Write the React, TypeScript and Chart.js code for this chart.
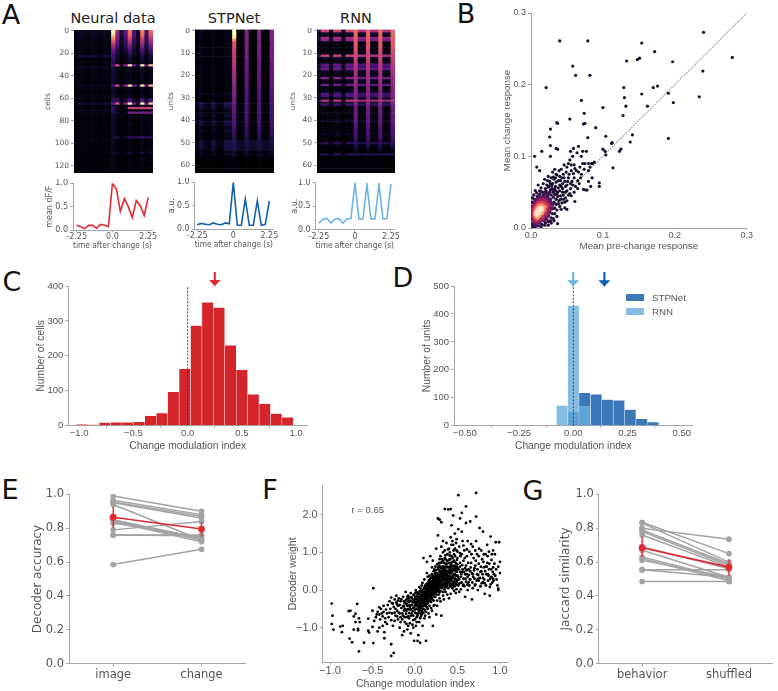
import React, { useEffect, useRef } from "react";
import { Chart, registerables } from "chart.js";
Chart.register(...registerables);

const GREY = "#555";
const SPINE = "#a6a6a6";
const DJ = "'DejaVu Sans'";
const LB = "'Liberation Sans'";

/* ---------- panel A data ---------- */
const timeBins = [-2.25,-2,-1.75,-1.5,-1.25,-1,-0.75,-0.5,-0.25,0,0.25,0.5,0.75,1,1.25,1.5,1.75,2,2.25];
const neuralTrace = [0.1,0.07,0.03,0.1,0.1,0.04,0.12,0.1,0.07,1.0,0.87,0.4,0.67,0.5,0.27,0.63,0.52,0.31,0.7];
const stpTrace = [0.09,0.12,0.1,0.09,0.13,0.1,0.09,0.13,0.11,1.0,0.08,0.08,0.64,0.08,0.08,0.6,0.08,0.1,0.6];
const rnnTrace = [0.14,0.22,0.24,0.14,0.23,0.24,0.14,0.23,0.24,1.0,0.23,0.23,0.96,0.23,0.23,0.96,0.23,0.24,0.97];

const neuralPre = [.07,.06,.05,.05,.04,.04,.04,.04,.03,.03,.04,.13,.03,.03,.03,.04,.08,.03,.04,.03,.05,.03,.02,.03,.06,.02,.02,.02,.03,.03,.04,.02,.1,.03,.02,.07,.04,.02,.02,.02,.02,.02,.02,.02,.02,.02,.01,.02,.03,.02,.01,.02,.01,.01,.02,.01,.01,.01,.01,.01,.01,.01,.01,.01];
const neuralOnset = [1,.95,.86,.76,.66,.56,.48,.42,.34,.28,.24,.2,.18,.15,.13,.25,.12,.11,.1,.09,.1,.08,.08,.08,.25,.08,.07,.07,.07,.07,.14,.14,.3,.08,.16,.18,.14,.07,.07,.07,.07,.06,.06,.06,.06,.06,.06,.09,.06,.05,.05,.05,.05,.05,.07,.04,.04,.04,.04,.04,.04,.04,.03,.03];
const neuralFlash = [.72,.7,.64,.58,.52,.46,.4,.33,.27,.21,.16,.12,.1,.08,.06,.95,.08,.06,.05,.05,.05,.05,.04,.04,.95,.06,.04,.04,.04,.04,.22,.26,1,.08,.1,.03,.12,.04,.04,.04,.04,.04,.03,.03,.03,.03,.03,.2,.03,.03,.03,.03,.03,.03,.1,.02,.02,.02,.02,.02,.02,.02,.01,.01];
const neuralTail = [0,0,0,0,0,0,0,0,0,0,0,0,0,0,0,.1,0,0,0,0,0,0,0,0,.12,0,0,0,0,0,.03,.05,.12,0,.55,.02,.34,0,0,0,0,0,0,0,0,0,0,.15,0,0,0,0,0,0,.04,0,0,0,0,0,0,0,0,0];
const neuralPreCols = [.5,1,.8,.5,1,.8,.5,1,.7];
const neuralFlashCols = [.6,.12,.4,1,.35,.1,1,.3,.9];

const stpOnset = [1,1,.97,.92,.76,.6,.59,.58,.56,.55,.54,.53,.52,.51,.5,.49,.48,.47,.46,.45,.44,.43,.42,.41,.4,.39,.38,.37,.36,.35,.34,.33,.32,.31,.3,.29,.28,.27,.27,.26,.25,.24,.23,.22,.21,.2,.18,.16,.14,.15,.15,.13,.13,.11,.07,.1,.04,.02,.01,.01,.01,.01,.01,.01];
const stpFlash = [.37,.37,.36,.36,.35,.35,.35,.34,.34,.34,.33,.33,.33,.32,.32,.31,.31,.31,.3,.3,.3,.29,.29,.29,.28,.28,.27,.27,.26,.26,.25,.25,.24,.24,.24,.23,.23,.23,.22,.22,.21,.21,.2,.2,.19,.18,.17,.15,.14,.14,.13,.12,.11,.09,.05,.08,.03,.01,.01,.01,.01,.01,.01,.01];
const stpPre = [.03,.03,.03,.04,.03,.03,.04,.03,.03,.05,.04,.03,.04,.03,.03,.03,.02,.03,.02,.02,.03,.02,.02,.03,.02,.02,.02,.03,.08,.02,.02,.02,.13,.13,.12,.07,.02,.08,.09,.02,.1,.11,.1,.03,.07,.07,.02,.05,.02,.11,.12,.12,.11,.09,.02,.07,.01,.01,.01,.01,.01,.01,.01,.01];
const stpBase = [0,0,0,0,0,0,0,0,0,0,0,0,0,0,0,0,0,0,0,0,0,0,0,0,0,0,0,0,.01,0,0,0,.02,.02,.02,.01,0,.02,.02,0,.02,.02,.02,0,.02,.02,0,.01,0,.07,.08,.08,.07,.06,0,.04,0,0,0,0,0,0,0,0];
const stpPreCols = [.3,1,.4,.2,1,.3,.2,1,1];

const rnnBand = [.56,.1,.06,.44,.4,.04,.04,.03,.03,.04,.06,.56,.1,.04,.04,.3,.26,.33,.08,.04,.05,.38,.06,.04,.33,.04,.03,.06,.26,.24,.04,.5,.1,.2,.03,.02,.02,.05,.02,.02,.08,.02,.02,.02,.02,.02,.06,.02,.02,.02,.16,.02,.01,.01,.01,.16,.01,.01,.01,.01,.01,.01,.01,.01];
const rnnFlash = [.66,.66,.65,.64,.63,.62,.61,.6,.59,.58,.57,.56,.55,.53,.52,.51,.5,.49,.47,.46,.45,.44,.43,.42,.41,.4,.39,.38,.38,.37,.36,.35,.35,.34,.33,.32,.32,.31,.3,.3,.29,.28,.27,.26,.25,.24,.23,.22,.2,.18,.17,.14,.1,.06,.03,.06,.01,.01,.01,.01,.01,.01,.01,.01];
const rnnBandCols = [.3,1,1,.15,1,1,.15,1,1,1,.85,.85,1,.85,.85,1,.85,.85,1];

/* ---------- panel B data ---------- */
const bSparse = [[.04,.261],[.079,.261],[.154,.258],[.24,.273],[.172,.246],[.28,.238],[.197,.232],[.133,.233],[.148,.235],[.151,.237],[.058,.226],[.062,.213],[.082,.213],[.239,.219],[.021,.196],[.129,.196],[.17,.196],[.176,.198],[.154,.187],[.191,.188],[.13,.182],[.234,.183],[.198,.175],[.07,.178],[.132,.17],[.162,.17],[.1,.168],[.074,.16],[.128,.157],[.054,.152],[.036,.147],[.037,.146],[.073,.145],[.075,.146],[.09,.14],[.027,.138],[.026,.127],[.079,.126],[.104,.128],[.141,.13],[.191,.125],[.138,.12],[.112,.118],[.113,.119],[.027,.115],[.035,.111],[.037,.11],[.059,.111],[.066,.114],[.055,.107],[.072,.107],[.077,.107],[.1,.11],[.103,.107],[.104,.102],[.123,.107],[.125,.11],[.005,.1],[.015,.107],[.027,.1],[.008,.085],[.012,.08],[.114,.084],[.095,.063],[.095,.058],[.061,.037],[.047,.028],[.05,.026],[.037,.006],[.01,.06],[.012,.052],[.016,.05],[.018,.046],[.02,.055],[.022,.06],[.019,.068],[.024,.047],[.026,.065],[.028,.07],[.03,.062],[.032,.068],[.034,.058],[.036,.074],[.038,.066],[.04,.06],[.042,.082],[.043,.07],[.044,.055],[.045,.075],[.046,.088],[.047,.065],[.048,.05],[.05,.085],[.05,.06],[.052,.07],[.052,.09],[.054,.095],[.055,.055],[.056,.08],[.057,.065],[.058,.1],[.06,.07],[.06,.088],[.062,.058],[.063,.08],[.064,.105],[.065,.066],[.067,.062],[.068,.085],[.07,.1],[.07,.075],[.072,.09],[.073,.054],[.075,.09],[.076,.053],[.078,.053],[.08,.09],[.08,.08],[.082,.085],[.083,.058],[.084,.09],[.086,.09],[.088,.092],[.08,.065],[.085,.07],[.035,.075],[.03,.053],[.033,.082],[.04,.072],[.044,.05],[.048,.042],[.052,.046],[.037,.05],[.041,.045],[.045,.04],[.043,.035],[.039,.038],[.054,.048],[.058,.06],[.066,.078],[.074,.082]];
const bCloud = [[.014,.056],[.017,.062],[.021,.051],[.023,.066],[.025,.058],[.027,.053],[.029,.059],[.031,.05],[.031,.071],[.033,.055],[.035,.064],[.036,.047],[.038,.056],[.039,.08],[.04,.052],[.041,.066],[.042,.058],[.044,.062],[.045,.046],[.046,.07],[.048,.058],[.049,.078],[.05,.052],[.051,.065],[.053,.075],[.055,.062],[.056,.088],[.059,.076],[.061,.083],[.024,.072],[.027,.062],[.03,.078],[.034,.07],[.041,.04],[.047,.036],[.05,.038],[.056,.045],[.06,.05],[.065,.055],[.069,.07]];
const blobDark = [[.001,.002],[.003,.001],[.006,.002],[.01,.003],[.014,.002],[.019,.004],[.024,.004],[.028,.007],[.001,.006],[.001,.012],[.001,.018],[.001,.024],[.001,.03],[.001,.036],[.002,.042],[.004,.046],[.008,.049],[.012,.047],[.015,.043],[.019,.05],[.023,.044],[.026,.05],[.028,.046],[.031,.043],[.033,.047],[.035,.04],[.037,.044],[.032,.036],[.035,.033],[.038,.034],[.033,.028],[.036,.025],[.03,.02],[.033,.02],[.028,.014],[.031,.013],[.024,.009],[.027,.01],[.02,.007],[.015,.005],[.034,.052],[.029,.055],[.024,.057],[.014,.051],[.006,.052],[.04,.03],[.042,.026],[.032,.01],[.036,.016],[.03,.027],[.027,.04],[.022,.048],[.017,.046],[.009,.044],[.005,.04],[.003,.035],[.03,.032],[.005,.005],[.012,.007],[.018,.01],[.022,.012]];
const blobPurple = [[.004,.008],[.007,.006],[.012,.009],[.016,.011],[.02,.014],[.024,.017],[.026,.022],[.028,.027],[.029,.033],[.027,.037],[.024,.041],[.02,.044],[.016,.042],[.012,.043],[.008,.04],[.005,.036],[.003,.03],[.003,.023],[.002,.016],[.003,.012],[.025,.03],[.024,.036],[.022,.04]];
const blobMagenta = [[.005,.011],[.008,.009],[.012,.012],[.016,.014],[.019,.018],[.022,.021],[.024,.026],[.024,.032],[.021,.037],[.017,.039],[.013,.039],[.009,.036],[.006,.032],[.004,.027],[.004,.02],[.004,.015],[.02,.032]];
const blobRed = [[.006,.014],[.009,.012],[.012,.015],[.015,.017],[.018,.021],[.02,.025],[.021,.03],[.018,.034],[.014,.035],[.01,.033],[.007,.029],[.005,.024],[.005,.018]];
const blobOrange = [[.007,.017],[.009,.015],[.012,.018],[.015,.021],[.017,.025],[.018,.029],[.015,.031],[.012,.031],[.009,.028],[.007,.024],[.006,.02]];
const blobCream = [[.008,.018],[.009,.021],[.011,.021],[.012,.024],[.014,.025],[.015,.027],[.012,.028],[.01,.025],[.008,.022]];

/* ---------- panels C, D data ---------- */
const cCenters = [-0.974,-0.868,-0.763,-0.658,-0.553,-0.447,-0.342,-0.237,-0.132,-0.026,0.079,0.184,0.289,0.395,0.5,0.605,0.711,0.816,0.921];
const cCounts = [4,3,9,10,10,11,28,36,97,163,287,353,338,230,160,90,63,35,24];
const dRnnCenters = [-0.052,0,0.052];
const dRnnCounts = [72,430,70];
const dStpCenters = [0,0.052,0.105,0.157,0.21,0.262,0.315,0.367];
const dStpCounts = [50,118,112,94,91,58,25,13];
const cArrowAt = 0.25;
const dStpArrowAt = 0.143;
const dRnnArrowAt = -0.001;

/* ---------- panel E, G data ---------- */
const eLabels = ["image","change"];
const eImage = [.99,.965,.955,.95,.94,.85,.845,.84,.83,.79,.76,.76,.585];
const eChange = [.9,.88,.87,.86,.73,.74,.73,.72,.745,.84,.76,.755,.675];
const eMean = [.865,.795];
const eErrLow = [.8,.75];
const eErrHigh = [.927,.833];
const gLabels = ["behavior","shuffled"];
const gBehavior = [.835,.83,.8,.79,.78,.76,.69,.67,.63,.62,.61,.555,.555,.485];
const gShuffled = [.65,.6,.735,.59,.58,.57,.56,.51,.5,.49,.51,.555,.51,.485];
const gMean = [.685,.57];
const gErrLow = [.63,.52];
const gErrHigh = [.75,.615];

/* ---------- panel F data ---------- */
const fPoints = [[-.98,-.36],[-.97,-.68],[-.98,-.9],[-.96,-1.05],[-.88,-.97],[-.85,-.95],[-.86,-1.12],[-.78,-.56],[-.76,-.55],[-.77,-1.29],[-.74,-1.39],[-.72,-.7],[-.7,-.63],[-.68,-.37],[-.72,-1.05],[-.7,-.85],[-.67,-1.07],[-.66,-.75],[-.65,-.85],[-.66,-1.63],[-.67,-1.03],[-.6,-1.4],[-.55,-.76],[-.55,-1.08],[-.54,-1.13],[-.5,-.98],[-.49,.05],[-.49,-1.41],[-.5,-.55],[-.46,-.72],[-.45,-.65],[-.44,-1.1],[-.42,-1.0],[-.42,-.46],[-.4,-.5],[-.38,-.95],[-.36,-1.12],[-.36,-1.28],[-.38,-.7],[-.35,-.75],[-.34,-.52],[-.33,-.9],[-.3,-.6],[-.3,-.3],[-.28,-.2],[-.28,-.8],[-.28,-1.44],[-.28,-1.75],[-.25,-1.67],[-.26,-.95],[-.25,-.45],[-.24,-.25],[-.23,-.68],[-.22,-.33],[-.21,-.55],[-.2,-.78],[-.2,-.42],[-.19,-.22],[-.18,-1.0],[-.18,-.62],[-.17,-.3],[-.16,-.48],[-.15,-.78],[-.15,-1.2],[-.14,-.18],[-.13,-.55],[-.13,-1.1],[-.12,-.35],[-.12,-.72],[-.11,-.05],[-.1,-.9],[-.1,-.25],[-.1,-.55],[-.09,-1.05],[-.09,-.42],[-.08,-.15],[-.08,-.7],[-.07,-.32],[-.06,-.88],[-.06,-.52],[-.05,-.08],[-.05,-1.15],[-.04,-.4],[-.04,-.62],[-.03,-.24],[-.02,-.8],[-.02,-.48],[-.01,-1.35],[-.01,-.12],[0,-.6],[0,-.35],[.01,.0],[.01,-.95],[.01,-.22],[.02,-.5],[.02,-.72],[.03,-.3],[.03,-.1],[.03,-1.35],[.04,-.42],[.04,-.62],[.05,-.18],[.05,.08],[.05,-.85],[.06,-.35],[.06,-.52],[.06,-1.4],[.07,-.05],[.07,-.25],[.07,-.7],[.08,.12],[.08,-.42],[.08,-.15],[.09,-.6],[.09,-.3],[.09,-.95],[.1,.02],[.1,-.22],[.1,-.5],[.1,.85],[.11,-.1],[.11,-.35],[.11,-.75],[.11,.28],[.12,.05],[.12,-.42],[.12,-.18],[.13,-.28],[.13,.15],[.13,-.58],[.13,-1.35],[.14,-.02],[.14,-.2],[.14,.75],[.15,.1],[.15,-.35],[.15,-.08],[.15,-.5],[.15,.35],[.16,-.15],[.16,.22],[.16,-.28],[.16,.02],[.17,-.42],[.17,.08],[.17,-.08],[.17,-.72],[.18,.3],[.18,-.22],[.18,.0],[.18,.9],[.19,.15],[.19,-.32],[.19,-.12],[.2,.42],[.2,.05],[.2,-.55],[.2,-.2],[.2,.22],[.21,-.05],[.21,.3],[.21,.78],[.21,-.95],[.22,.12],[.22,-.28],[.22,.5],[.22,-.12],[.23,.02],[.23,.35],[.23,.2],[.23,-.4],[.24,.08],[.24,.62],[.24,-.18],[.24,.45],[.25,.27],[.25,-.05],[.25,1.1],[.25,-.65],[.26,.15],[.26,.38],[.26,-.28],[.27,.55],[.27,.02],[.27,1.45],[.27,1.9],[.27,.22],[.28,-.12],[.28,.72],[.28,.32],[.29,.1],[.29,.48],[.29,-.22],[.29,1.87],[.3,.9],[.3,.25],[.3,-.02],[.3,.6],[.31,.38],[.31,.15],[.31,1.15],[.31,1.8],[.31,-.68],[.32,.5],[.32,.05],[.32,.75],[.33,.3],[.33,1.0],[.33,-.15],[.33,1.3],[.34,.18],[.34,.62],[.34,.42],[.35,.85],[.35,.08],[.35,2.15],[.35,1.05],[.36,.3],[.36,.52],[.36,-.05],[.37,.7],[.37,.22],[.37,1.25],[.38,.4],[.38,.95],[.38,.12],[.39,.6],[.39,2.14],[.4,.3],[.4,.8],[.4,1.1],[.4,-.22],[.41,.48],[.41,.15],[.42,.68],[.42,1.4],[.42,2.15],[.42,.25],[.43,.35],[.43,.9],[.43,1.72],[.44,.55],[.44,.05],[.44,.75],[.45,.2],[.45,1.2],[.45,1.98],[.46,.42],[.46,.62],[.46,.95],[.47,.1],[.47,.3],[.47,1.5],[.48,.5],[.48,.72],[.48,-.08],[.49,1.05],[.49,.2],[.49,1.35],[.5,.38],[.5,.6],[.5,.85],[.51,.12],[.51,2.52],[.51,1.62],[.52,.28],[.52,1.15],[.53,.48],[.53,.72],[.53,1.9],[.54,.02],[.54,.35],[.55,.95],[.55,.2],[.55,1.55],[.55,2.05],[.56,.55],[.56,1.3],[.57,.3],[.57,.78],[.58,.1],[.58,1.05],[.59,.42],[.59,-.18],[.6,.65],[.6,.22],[.6,1.78],[.6,2.22],[.61,.9],[.62,.35],[.62,.0],[.62,1.3],[.63,.55],[.64,.12],[.64,1.02],[.65,1.82],[.65,.28],[.66,.72],[.67,-.25],[.67,.45],[.68,.05],[.68,1.15],[.69,.85],[.7,.3],[.7,.58],[.71,.15],[.72,2.58],[.72,1.95],[.72,1.3],[.73,.42],[.73,.95],[.74,.0],[.75,.7],[.75,.25],[.76,1.65],[.77,.1],[.78,.5],[.78,1.05],[.79,.82],[.8,.32],[.8,1.55],[.81,.6],[.82,-.1],[.82,.18],[.83,.95],[.84,.42],[.85,.72],[.85,1.2],[.86,.25],[.87,.55],[.88,-.15],[.88,.08],[.89,1.42],[.9,.35],[.9,.8],[.91,.2],[.92,1.05],[.92,.6],[.93,.42],[.94,.95],[.95,1.27],[.96,.28],[.97,.12],[.98,.04],[.98,.62],[.98,.0],[.99,1.27],[1,.75],[1,.45]];
const fCore = [[-.13,-.44],[-.115,-.29],[-.105,-.63],[-.095,-.36],[-.085,-.51],[-.075,-.23],[-.07,-.61],[-.065,-.41],[-.055,-.29],[-.048,-.51],[-.042,-.19],[-.033,-.39],[-.028,-.56],[-.022,-.31],[-.018,-.13],[-.012,-.46],[-.006,-.26],[.002,-.52],[.004,-.19],[.006,-.07],[.012,-.39],[.015,-.31],[.017,-.62],[.022,-.16],[.025,-.41],[.027,-.06],[.032,-.49],[.035,-.23],[.042,-.31],[.044,-.09],[.046,-.56],[.052,-.43],[.054,-.26],[.056,-.03],[.062,-.19],[.064,-.46],[.066,.04],[.072,-.31],[.074,-.13],[.076,-.51],[.082,-.23],[.084,-.36],[.086,-.03],[.088,.19],[.092,-.16],[.094,-.43],[.096,-.07],[.102,-.29],[.104,-.12],[.106,.06],[.108,-.39],[.112,-.22],[.114,-.04],[.116,-.53],[.118,.11],[.122,-.33],[.124,-.09],[.126,.02],[.128,-.2],[.132,-.14],[.134,.08],[.136,-.38],[.138,-.03],[.142,.17],[.144,-.25],[.146,-.12],[.148,.04],[.152,-.19],[.154,-.03],[.156,.14],[.158,-.32],[.162,.07],[.164,-.11],[.166,.26],[.168,-.02],[.172,-.2],[.174,.17],[.176,.04],[.178,-.28],[.182,.11],[.184,-.07],[.186,.22],[.188,.02],[.192,.33],[.194,-.16],[.196,.08],[.198,-.04],[.202,.18],[.204,-.25],[.206,.01],[.208,.37],[.212,.13],[.214,-.1],[.216,.26],[.218,.06],[.222,-.02],[.224,.31],[.226,.17],[.228,-.18],[.232,.09],[.234,.42],[.236,-.07],[.238,.24],[.242,.14],[.244,.36],[.246,.01],[.248,.52],[.252,.2],[.254,-.12],[.256,.3],[.258,.08],[.262,.44],[.264,.18],[.266,-.03],[.268,.33],[.272,.11],[.274,.6],[.276,.25],[.278,.02],[.282,.4],[.284,.16],[.286,.65],[.288,-.06],[.292,.3],[.294,.52],[.296,.19],[.298,.07],[.302,.37],[.304,.72],[.306,.45],[.308,.22],[.312,.08],[.314,.58],[.316,.32],[.318,.82],[.322,.15],[.324,.42],[.326,.63],[.328,-.05],[.332,.25],[.334,.52],[.336,.35],[.338,.12],[.342,.72],[.344,.28],[.346,.48],[.348,.02],[.352,.38],[.354,.6],[.356,.16],[.358,.92],[.362,.44],[.364,.25],[.366,.68],[.368,.08],[.372,.5],[.374,.33],[.376,.78],[.378,.18],[.382,.62],[.384,.28],[.386,.45],[.388,1.08],[.392,.05],[.394,.36],[.396,.72],[.398,.52],[.402,.2],[.404,.6],[.406,.38],[.408,.92],[.412,.28],[.414,.82],[.416,.1],[.418,.55],[.422,.44],[.424,.72],[.426,.16],[.428,1.2],[.432,.62],[.434,.3],[.436,.48],[.438,.06],[.442,.85],[.444,.38],[.446,.22],[.448,.65],[.452,.52],[.454,1.05],[.456,.12],[.458,.32],[.462,.75],[.464,.22],[.466,.55],[.468,.42],[.472,.9],[.474,.65],[.476,.16],[.478,.28],[.482,.38],[.484,1.25],[.486,.6],[.488,.02],[.492,.48],[.494,.8],[.496,.26],[.498,.68],[.505,.35],[.515,.55],[.525,.18],[.535,.9],[.545,.42],[.555,.66],[.565,.12],[.575,.48],[.585,.85],[.595,.3],[.605,.52],[.615,.14],[.625,.72],[.635,.4],[.645,.28],[.655,.6],[.665,.95],[.675,.2],[.685,.35],[.695,.52],[.705,.12],[.715,.78],[.725,.25],[.735,.55],[.745,.4],[.755,1.1],[.765,.32],[.775,.62],[.785,.18],[.795,.42],[.805,.75],[.815,.28],[.825,.5],[.835,.12],[.845,.62],[.855,.9],[.865,.38],[.875,.7],[.885,.3],[.895,.55],[.905,.95],[.915,.48],[.925,.25],[.935,.7],[.945,.38],[.955,.55],[-.48,-.82],[-.44,-.58],[-.41,-.78],[-.39,-.62],[-.37,-.42],[-.35,-.85],[-.32,-.4],[-.31,-.72],[-.29,-.5],[-.27,-.62],[-.26,-.36],[-.24,-.82],[-.23,-.5],[-.22,-.15],[-.21,-.7],[-.2,-.28],[-.19,-.6],[-.18,-.4],[-.17,-.85],[-.16,-.25],[-.15,-.62],[-.14,-.42],[-.13,-.3],[-.12,-.85],[-.11,-.52],[-.1,-.38],[-.09,-.18],[-.08,-.95],[-.07,-.75],[-.06,-.2],[-.05,-.68],[-.03,-.92],[-.02,-1.0],[0,-.78],[.02,-.85],[.04,-1.2],[.06,-.75],[.08,-.65],[.12,-.68],[.16,-.62],[.19,-.48],[.22,-.42],[.26,-.42],[.3,-.3],[.34,-.25],[.38,-.12],[.42,-.1],[.46,-.02],[.52,-.05]];
const fDense = [[.105,-.17],[.118,-.26],[.127,-.06],[.135,-.17],[.143,-.07],[.15,-.26],[.157,-.1],[.165,.02],[.173,-.15],[.18,.06],[.187,-.02],[.195,.12],[.2,-.1],[.21,.19],[.217,-.02],[.225,.08],[.233,.27],[.24,.03],[.247,.16],[.255,.24],[.26,.05],[.268,.13],[.275,.38],[.28,.09],[.287,.24],[.293,.41],[.3,.17],[.31,.32],[.315,.46],[.32,.1],[.328,.24],[.335,.36],[.34,.55],[.345,.13],[.353,.26],[.36,.42],[.368,.6],[.375,.15],[.383,.35],[.39,.5],[.395,.22],[.405,.45],[.413,.62],[.42,.33],[.43,.52],[.44,.12],[.45,.38],[.46,.78],[.47,.58],[.485,.15],[.495,.55],[.515,.3],[.53,.62],[.55,.48],[.57,.14],[.59,.58],[.61,.42],[.63,.2],[.65,.5],[.68,.42],[.71,.65],[.74,.3],[.77,.48],[.8,.2],[.83,.62],[.86,.42],[.89,.15],[.92,.3],[-.01,-.32],[.005,-.42],[.015,-.24],[.028,-.36],[.038,-.52],[.048,-.11],[.058,-.37],[.068,-.2],[.078,-.56],[.085,-.1],[.095,-.25],[-.08,-.3],[-.06,-.45],[-.04,-.3],[-.02,-.68],[.0,-.42],[.03,-.68],[.07,-.62],[.1,-.6],[.14,-.46],[-.27,-.35],[-.24,-.6],[-.21,-.38],[-.17,-.72],[-.14,-.68],[-.12,-.5],[-.1,-.72],[-.33,-.62],[-.37,-.58],[-.42,-.65],[.14,.45],[.17,.38],[.2,.6],[.23,.55],[.26,.68],[.29,.82],[.33,.78],[.36,.82],[.41,1.0],[.44,1.3],[.47,1.1],[.5,1.02],[.53,.98],[.57,1.18],[.61,1.08],[.66,1.22],[.71,1.05],[.75,.9],[.81,.95],[.87,1.02]];

/* ---------- axis ticks ---------- */
const neuralRowTicks = [0,20,40,60,80,100,120];
const unitRowTicks = [0,10,20,30,40,50,60];
const traceYTicks = [0,0.5,1];
const traceXTicks = [-2.25,0,2.25];
const bTicks = [0,0.1,0.2,0.3];
const cXTicks = [-1,-0.5,0,0.5,1];
const cYTicks = [0,100,200,300,400];
const dXTicks = [-0.5,-0.25,0,0.25,0.5];
const dYTicks = [0,100,200,300,400,500];
const egYTicks = [0,0.2,0.4,0.6,0.8,1];
const fXTicks = [-1,-0.5,0,0.5,1];
const fYTicks = [-1,0,1,2];

/* ---------- helpers ---------- */
const magmaStops = ["#000004","#1c1044","#4f127b","#812581","#b5367a","#e55964","#fb8761","#fec287","#fcfdbf"];
function magma(v: number) {
  const t = Math.max(0, Math.min(1, v)) * (magmaStops.length - 1);
  const i = Math.min(Math.floor(t), magmaStops.length - 2);
  const f = t - i;
  const p = (s: string) => [1, 3, 5].map((k) => parseInt(s.slice(k, k + 2), 16));
  const a = p(magmaStops[i]), b = p(magmaStops[i + 1]);
  return `rgb(${a.map((x, k) => Math.round(x + (b[k] - x) * f)).join(",")})`;
}
const pts = (list: number[][]) => list.map(([x, y]) => ({ x, y }));
const tickList = (vals: number[]) => (s: any) => { s.ticks = vals.map((value) => ({ value })); };

type Geo = { canvasLeft: number; canvasTop: number; w: number; h: number; pl: number; pt: number; pr: number; pb: number };
function geo(plot: number[], pad: number[]): Geo {
  const [l, t, r, b] = plot;
  const [L, T, R, B] = pad;
  const canvasLeft = Math.round(l - L), canvasTop = Math.round(t - T);
  const w = Math.ceil(r + R - canvasLeft), h = Math.ceil(b + B - canvasTop);
  return { canvasLeft, canvasTop, w, h, pl: l - canvasLeft, pt: t - canvasTop, pr: w - (r - canvasLeft), pb: h - (b - canvasTop) };
}
function axis(kind: "x" | "y", g: Geo, o: any) {
  const { family, size, title, titleSize, vals, fmt, type, min, max, reverse, hideAll, offset, tickLen, tickPad } = o;
  return {
    type, min, max, reverse, offset,
    afterBuildTicks: vals ? tickList(vals) : undefined,
    afterFit: (s: any) => {
      if (kind === "x") s.height = g.pb; else s.width = g.pl;
      s.paddingLeft = 0; s.paddingRight = 0; s.paddingTop = 0; s.paddingBottom = 0;
    },
    border: { display: !hideAll, color: SPINE, width: 1 },
    grid: { display: !hideAll, drawOnChartArea: false, drawTicks: !hideAll, tickLength: tickLen ?? (kind === "x" ? 2 : 3), color: SPINE },
    ticks: {
      display: !hideAll, color: GREY, font: { family, size }, padding: tickPad ?? (kind === "x" ? 0 : 2), autoSkip: false, maxRotation: 0, minRotation: 0,
      callback: fmt,
    },
    title: title ? { display: true, text: title, color: GREY, font: { family, size: titleSize ?? size }, padding: 0 } : { display: false },
  };
}
function baseOptions(g: Geo, x: any, y: any) {
  return {
    responsive: false, animation: false, events: [] as string[],
    layout: { padding: { left: 0, top: g.pt, right: g.pr, bottom: 0 } },
    plugins: { legend: { display: false }, tooltip: { enabled: false }, title: { display: false } },
    scales: { x, y },
  };
}

function Panel({ plot, pad, build, blur }: { plot: number[]; pad: number[]; build: (g: Geo) => any; blur?: boolean }) {
  const ref = useRef<HTMLCanvasElement>(null);
  const g = geo(plot, pad);
  useEffect(() => {
    const chart = new Chart(ref.current as HTMLCanvasElement, build(g));
    return () => chart.destroy();
  }, []);
  return <canvas ref={ref} width={g.w} height={g.h} style={{ position: "absolute", left: g.canvasLeft, top: g.canvasTop, width: g.w, height: g.h, filter: blur ? "blur(0.7px)" : undefined }} />;
}

/* heat maps: one floating bar per cell, one dataset per row */
function heat(g: Geo, rowStep: number, matrix: number[][], rowMax: number, ticks: number[], title: string) {
  return {
    type: "bar",
    data: {
      labels: timeBins,
      datasets: matrix.map((vals, r) => ({
        data: vals.map(() => [r * rowStep - 0.5, (r + 1) * rowStep - 0.5]),
        backgroundColor: vals.map(magma), borderWidth: 0, grouped: false, barPercentage: 1, categoryPercentage: 1,
      })),
    },
    options: baseOptions(g,
      axis("x", g, { type: "category", hideAll: true, offset: true }),
      axis("y", g, { type: "linear", min: -0.5, max: rowMax, reverse: true, vals: ticks, family: DJ, size: 7.5, title, titleSize: 7.5, fmt: (v: any) => String(v) })),
  };
}
const neuralMatrix = neuralPre.map((_, r) => timeBins.map((__, c) => {
  if (c < 9) return neuralPre[r] * neuralPreCols[c];
  if (c === 9) return neuralOnset[r];
  return Math.max(neuralFlash[r] * neuralFlashCols[c - 10], c >= 13 ? neuralTail[r] : 0, 0.01);
}));
const stpMatrix = stpPre.map((_, r) => timeBins.map((__, c) => {
  if (c < 9) return stpPre[r] * stpPreCols[c];
  if (c === 9) return stpOnset[r];
  if (c === 12 || c === 15 || c === 18) return stpFlash[r];
  return stpBase[r];
}));
const rnnMatrix = rnnBand.map((_, r) => timeBins.map((__, c) => {
  if (c === 9 || c === 12 || c === 15 || c === 18) return Math.max(rnnFlash[r], rnnBand[r]);
  return rnnBand[r] * rnnBandCols[c];
}));

function trace(g: Geo, values: number[], color: string, xLabels: string[], yTitle: string, xMin: number, xMax: number) {
  return {
    type: "line",
    data: { datasets: [{ data: values.map((y, i) => ({ x: timeBins[i], y })), borderColor: color, borderWidth: 1.6, pointRadius: 0, tension: 0 }] },
    options: baseOptions(g,
      axis("x", g, { type: "linear", min: xMin, max: xMax, vals: traceXTicks, family: DJ, size: 8, title: "time after change (s)", titleSize: 8.3, fmt: (v: any) => xLabels[traceXTicks.indexOf(v)] }),
      axis("y", g, { type: "linear", min: 0, max: 1, vals: traceYTicks, family: DJ, size: 8, title: yTitle, titleSize: 8, fmt: (v: any) => Number(v).toFixed(1) })),
  };
}

function arrow(at: number, color: string, halfX: number, top: number, neck: number, tip: number) {
  return {
    type: "line", clip: false, borderColor: color, borderWidth: 2.1, pointRadius: 0, tension: 0, order: -1,
    data: pts([[at, top], [at, neck], [at - halfX, neck], [at, tip], [at + halfX, neck], [at - halfX / 2, neck], [at, tip], [at + halfX / 2, neck], [at, neck]]),
  };
}
const zeroLine = (top: number) => ({
  type: "line", borderColor: "#333", borderWidth: 0.9, borderDash: [2, 1.5], pointRadius: 0, order: -2, data: pts([[0, 0], [0, top]]),
});
const minus = (v: any, d: number) => (v < 0 ? "\u2212" : "") + Math.abs(Number(v)).toFixed(d);

function paired(g: Geo, labels: string[], a: number[], b: number[], mean: number[], low: number[], high: number[], yTitle: string) {
  const greys = a.map((v, i) => ({
    data: [v, b[i]], borderColor: "#a3a3a3", backgroundColor: "#a3a3a3", borderWidth: 1.5, pointRadius: 2.1, tension: 0,
  }));
  const red = "#e12a32";
  return {
    type: "line",
    data: {
      labels,
      datasets: [
        { data: mean, borderColor: red, backgroundColor: red, borderWidth: 1.6, pointRadius: 2.6, tension: 0 },
        ...labels.map((lab, i) => ({
          data: [{ x: lab, y: low[i] }, { x: lab, y: high[i] }], borderColor: red, borderWidth: 1.4, pointRadius: 0,
        })),
        ...greys,
      ],
    },
    options: baseOptions(g,
      axis("x", g, { type: "category", offset: true, family: DJ, size: 11.5, tickLen: 3, tickPad: 1, fmt: (_: any, i: number) => labels[i] }),
      axis("y", g, { type: "linear", min: 0, max: 1, vals: egYTicks, family: DJ, size: 11.5, title: yTitle, titleSize: 12, fmt: (v: any) => Number(v).toFixed(1) })),
  };
}

const panelB = (g: Geo) => {
  const layer = (list: number[][], color: string, r: number) => ({ data: pts(list), backgroundColor: color, borderWidth: 0, pointRadius: r });
  return {
    type: "scatter",
    data: {
      datasets: [
        { data: pts([[0, 0], [0.3, 0.3]]), showLine: true, borderColor: "#333", borderWidth: 0.7, borderDash: [2, 1], pointRadius: 0 },
        layer(blobCream, "#fae3c8", 2.3), layer(blobOrange, "#f5966a", 2.4), layer(blobRed, "#e0424f", 2.4),
        layer(blobMagenta, "#a8205f", 2.3), layer(blobPurple, "#5d1a5e", 2.1), layer(blobDark, "#2a1140", 1.7),
        layer(bSparse, "#1c1030", 1.6), layer(bCloud, "#1c1030", 1.6),
      ],
    },
    options: baseOptions(g,
      axis("x", g, { type: "linear", min: 0, max: 0.3, vals: bTicks, family: LB, size: 9, title: "Mean pre-change response", titleSize: 9.7, fmt: (v: any) => Number(v).toFixed(1) }),
      axis("y", g, { type: "linear", min: 0, max: 0.3, vals: bTicks, family: LB, size: 9, title: "Mean change response", titleSize: 9.7, fmt: (v: any) => Number(v).toFixed(1) })),
  };
};
const barStyle = { borderColor: "rgba(255,255,255,.3)", borderWidth: 0.5, grouped: false, barThickness: 11.42, inflateAmount: 0.3 };
const panelC = (g: Geo) => ({
  type: "bar",
  data: {
    datasets: [
      arrow(cArrowAt, "#e12a32", 0.03, 440, 414, 404),
      zeroLine(400),
      { type: "bar", data: cCenters.map((x, i) => ({ x, y: cCounts[i] })), backgroundColor: "#d4252b", ...barStyle },
    ],
  },
  options: baseOptions(g,
    axis("x", g, { type: "linear", min: -1.1, max: 1.1, vals: cXTicks, family: LB, size: 9.5, title: "Change modulation index", titleSize: 10.3, fmt: (v: any) => minus(v, 1) }),
    axis("y", g, { type: "linear", min: 0, max: 400, vals: cYTicks, family: LB, size: 9.5, title: "Number of cells", titleSize: 10.3, fmt: (v: any) => String(v) })),
});
const panelD = (g: Geo) => ({
  type: "bar",
  data: {
    datasets: [
      arrow(dStpArrowAt, "#0b5cad", 0.016, 550, 517, 504),
      arrow(dRnnArrowAt, "#6db3e0", 0.016, 550, 517, 504),
      zeroLine(500),
      { type: "bar", order: 1, label: "RNN", data: dRnnCenters.map((x, i) => ({ x, y: dRnnCounts[i] })), backgroundColor: "rgba(102,172,219,.8)", ...barStyle },
      { type: "bar", order: 2, label: "STPNet", data: dStpCenters.map((x, i) => ({ x, y: dStpCounts[i] })), backgroundColor: "#3b78b8", ...barStyle },
    ],
  },
  options: baseOptions(g,
    axis("x", g, { type: "linear", min: -0.55, max: 0.55, vals: dXTicks, family: LB, size: 9.5, title: "Change modulation index", titleSize: 10.3, fmt: (v: any) => minus(v, 2) }),
    axis("y", g, { type: "linear", min: 0, max: 500, vals: dYTicks, family: LB, size: 9.5, title: "Number of units", titleSize: 10.3, fmt: (v: any) => String(v) })),
});
const panelF = (g: Geo) => ({
  type: "scatter",
  data: { datasets: [
    { data: pts(fPoints), backgroundColor: "#000", borderWidth: 0, pointRadius: 1.4 },
    { data: pts(fCore), backgroundColor: "#000", borderWidth: 0, pointRadius: 1.4 },
    { data: pts(fDense), backgroundColor: "#000", borderWidth: 0, pointRadius: 1.4 },
  ] },
  options: baseOptions(g,
    axis("x", g, { type: "linear", min: -1.086, max: 1.098, vals: fXTicks, family: LB, size: 11, title: "Change modulation index", titleSize: 10.5, fmt: (v: any) => minus(v, 1) }),
    axis("y", g, { type: "linear", min: -1.93, max: 2.79, vals: fYTicks, family: LB, size: 11, title: "Decoder weight", titleSize: 10.5, fmt: (v: any) => minus(v, 1) })),
});

function Txt({ x, y, size, color, family, children, anchor }: any) {
  const tx = anchor === "left" ? "0" : "-50%";
  return <div style={{ position: "absolute", left: x, top: y, transform: `translate(${tx},-50%)`, fontSize: size, color, fontFamily: family, whiteSpace: "nowrap", lineHeight: 1 }}>{children}</div>;
}
const Swatch = ({ x, y, c }: any) => <div style={{ position: "absolute", left: x, top: y, width: 18, height: 7, background: c }} />;

export default function App() {
  return (
    <div style={{ position: "fixed", left: 0, top: 0, width: 778, height: 691, background: "#fff", overflow: "hidden", filter: "blur(0.4px)" }}>
      {[["A", 11, 14], ["B", 466, 13], ["C", 12, 281], ["D", 403, 277], ["E", 10, 489], ["F", 270, 489], ["G", 533, 490]].map(([t, x, y]: any) => (
        <Txt key={t} x={x} y={y} size={27} color="#111" family={DJ}>{t}</Txt>
      ))}
      <Txt x={113} y={18} size={14.5} color="#222" family={DJ}>Neural data</Txt>
      <Txt x={234} y={18} size={14.5} color="#222" family={DJ}>STPNet</Txt>
      <Txt x={356} y={18} size={14.5} color="#222" family={DJ}>RNN</Txt>

      <Panel blur plot={[74, 30.1, 153, 173]} pad={[30, 2, 2, 0]} build={(g) => heat(g, 2, neuralMatrix, 126.5, neuralRowTicks, "cells")} />
      <Panel blur plot={[195, 29.6, 274, 173]} pad={[28, 2, 2, 0]} build={(g) => heat(g, 1, stpMatrix, 63.5, unitRowTicks, "units")} />
      <Panel blur plot={[317, 29.6, 395, 173]} pad={[28, 2, 2, 0]} build={(g) => heat(g, 1, rnnMatrix, 63.5, unitRowTicks, "units")} />

      <Panel plot={[73, 183.3, 152, 230]} pad={[28, 4, 14, 21]} build={(g) => trace(g, neuralTrace, "#e12a32", ["-2.25", "0.0", "2.25"], "mean dF/F", -2.48, 2.49)} />
      <Panel plot={[194.7, 182.3, 273, 229]} pad={[28, 4, 14, 21]} build={(g) => trace(g, stpTrace, "#1560ae", ["-2.25", "0", "2.25"], "a.u.", -2.41, 2.48)} />
      <Panel plot={[315.7, 182.7, 394, 229.7]} pad={[26, 4, 14, 21]} build={(g) => trace(g, rnnTrace, "#6cb4e4", ["-2.25", "0", "2.25"], "a.u.", -2.45, 2.44)} />

      <Panel plot={[531, 12.7, 746.7, 228]} pad={[29, 4, 12, 24]} build={panelB} />
      <Panel plot={[68.3, 286, 307, 425.7]} pad={[33, 18, 6, 25.5]} build={panelC} />
      <Panel plot={[454, 286, 692.7, 425.7]} pad={[33, 18, 8, 25.5]} build={panelD} />
      <Swatch x={626} y={294} c="#3b78b8" />
      <Swatch x={626} y={308} c="#85bde2" />
      <Txt x={652} y={298} size={9.7} color={GREY} family={LB} anchor="left">STPNet</Txt>
      <Txt x={652} y={311.5} size={9.7} color={GREY} family={LB} anchor="left">RNN</Txt>

      <Panel plot={[69, 494.3, 245.7, 663.7]} pad={[38, 6, 6, 27]} build={(g) => paired(g, eLabels, eImage, eChange, eMean, eErrLow, eErrHigh, "Decoder accuracy")} />
      <Panel plot={[322.7, 482.7, 508.3, 662.7]} pad={[36, 2, 8, 27]} build={panelF} />
      <Txt x={351.5} y={509.5} size={9.5} color={GREY} family={LB} anchor="left">r = 0.65</Txt>
      <Panel plot={[598.7, 494.3, 774.7, 663.7]} pad={[40, 6, 3, 27]} build={(g) => paired(g, gLabels, gBehavior, gShuffled, gMean, gErrLow, gErrHigh, "Jaccard similarity")} />
    </div>
  );
}
